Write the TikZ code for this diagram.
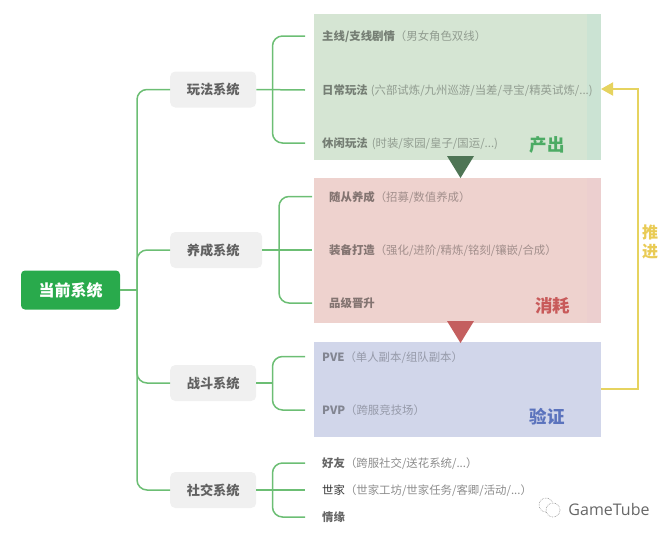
\documentclass[tikz,border=0pt]{standalone}
\usepackage{fontspec}
\setmainfont{Noto Sans CJK SC}
\newfontfamily\markfont{Open Sans}
\usepackage{xcolor}
\definecolor{linkgreen}{RGB}{108,190,116}
\definecolor{rootgreen}{RGB}{41,170,76}
\definecolor{sysgray}{RGB}{240,240,240}
\definecolor{outbox}{RGB}{213,229,211}
\definecolor{outstrip}{RGB}{203,227,211}
\definecolor{outmark}{RGB}{78,117,85}
\definecolor{outtext}{RGB}{76,171,100}
\definecolor{usebox}{RGB}{238,210,206}
\definecolor{usestrip}{RGB}{236,207,207}
\definecolor{usemark}{RGB}{196,95,95}
\definecolor{usetext}{RGB}{200,90,90}
\definecolor{testbox}{RGB}{209,214,234}
\definecolor{testtext}{RGB}{91,115,189}
\definecolor{pushyellow}{RGB}{230,211,95}
\usetikzlibrary{
  arrows.meta,
  positioning,
  calc
}

\begin{document}
\begin{tikzpicture}[
    x=1pt, y=-1pt,
    link/.style={line width=1.5pt, linkgreen},
    fork/.style={link, rounded corners=10pt},
    rootbox/.style={
      rectangle, rounded corners=4pt, fill=rootgreen, text=white,
      minimum width=99pt, minimum height=39pt, inner sep=0pt,
      font=\fontsize{16}{18}\selectfont\bfseries
    },
    sysbox/.style={
      rectangle, rounded corners=5pt, fill=sysgray, text=black!62,
      minimum height=36pt, inner sep=0pt, anchor=west,
      font=\fontsize{13.2}{15}\selectfont\bfseries
    },
    zone/.style={rectangle, minimum width=287pt, inner sep=0pt},
    item/.style={anchor=west, inner xsep=17pt, inner ysep=0pt,
      text height=10pt, text depth=1pt,
      font=\fontsize{11.4}{13}\selectfont},
    tag/.style={font=\fontsize{17.5}{20}\selectfont\bfseries},
    >=Stealth
  ]
  \useasboundingbox (0,0) rectangle (672,536);

  %% Coloured zones
  \node[zone, fill=outbox, minimum height=146pt] (output) at (457.5,87) {};
  \fill[outstrip] (587,14) rectangle (601,160);
  \node[zone, fill=usebox, minimum height=145pt] (consume) at (457.5,250.5) {};
  \fill[usestrip] (587,178) rectangle (601,323);
  \node[zone, fill=testbox, minimum height=95pt] (verify) at (457.5,389) {};

  %% Zone triangles
  \fill[outmark] (447,156) -- (474,156) -- (460.5,178) -- cycle;
  \fill[usemark] (447,321) -- (474,321) -- (460.5,343) -- cycle;

  %% Root and systems
  \node[rootbox] (root) at (70.5,290) {当前系统};
  \node[sysbox, minimum width=86pt] (play) at (170,89.5) {玩法系统};
  \node[sysbox, minimum width=92pt] (grow) at (170,250) {\hspace{-6pt}养成系统};
  \node[sysbox, minimum width=86pt] (fight) at (170,383) {战斗系统};
  \node[sysbox, minimum width=86pt] (social) at (170,490) {社交系统};

  %% Play items
  \node[item] (story) at (305,36)
    {\textcolor{black!45!outbox}{\textbf{主线/支线剧情}}\textcolor{black!32!outbox}{（男女角色双线）}};
  \node[item] (daily) at (305,90)
    {\textcolor{black!45!outbox}{\textbf{日常玩法}}\hspace{3pt}\textcolor{black!32!outbox}{(六部试炼/九州巡游/当差/寻宝/精英试炼/...)}};
  \node[item] (leisure) at (305,143)
    {\textcolor{black!45!outbox}{\textbf{休闲玩法}}\hspace{4pt}\textcolor{black!32!outbox}{(时装/家园/皇子/国运/...)}};

  %% Grow items
  \node[item] (follower) at (312,196.5)
    {\textcolor{black!45!usebox}{\textbf{随从养成}}\textcolor{black!32!usebox}{（招募/数值养成）}};
  \node[item] (gear) at (312,250)
    {\textcolor{black!45!usebox}{\textbf{装备打造}}\textcolor{black!32!usebox}{（强化/进阶/精炼/铭刻/镶嵌/合成）}};
  \node[item] (rank) at (312,303)
    {\textcolor{black!45!usebox}{\textbf{品级晋升}}};

  %% Fight items
  \node[item] (pve) at (305,356.5)
    {\textcolor{black!38!testbox}{\textbf{PVE}}\textcolor{black!28!testbox}{（单人副本/组队副本）}};
  \node[item] (pvp) at (305,410)
    {\textcolor{black!38!testbox}{\textbf{PVP}}\textcolor{black!28!testbox}{（跨服竞技场）}};

  %% Social items
  \node[item] (friend) at (305,463)
    {\textcolor{black!60}{\textbf{好友}}\textcolor{black!45}{（跨服社交/送花系统/...）}};
  \node[item] (clan) at (305,490)
    {\textcolor{black!80}{世家}\textcolor{black!45}{（世家工坊/世家任务/客卿/活动/...）}};
  \node[item] (couple) at (305,517)
    {\textcolor{black!60}{\textbf{情缘}}};

  %% Zone tags
  \node[tag, text=outtext] (outtag) at (547,145) {产出};
  \node[tag, text=usetext] (usetag) at (552.5,306) {消耗};
  \node[tag, text=testtext] (testtag) at (547,416.5) {验证};

  %% Fork points
  \coordinate (rootfork) at (137,290);
  \coordinate (playfork) at (272.5,89.5);
  \coordinate (growfork) at (279,250);
  \coordinate (fightfork) at (272.5,383);
  \coordinate (socialfork) at (272.5,490);

  %% Root edges
  \draw[link] (root.east) -- (rootfork);
  \draw[fork] (rootfork) |- (play.west);
  \draw[fork] (rootfork) |- (grow.west);
  \draw[fork] (rootfork) |- (fight.west);
  \draw[fork] (rootfork) |- (social.west);

  %% System edges
  \draw[link] (play.east) -- (daily.west);
  \draw[fork] (playfork) |- (story.west);
  \draw[fork] (playfork) |- (leisure.west);

  \draw[link] (grow.east) -- (gear.west);
  \draw[fork] (growfork) |- (follower.west);
  \draw[fork] (growfork) |- (rank.west);

  \draw[link] (fight.east) -- (fightfork);
  \draw[fork] (fightfork) |- (pve.west);
  \draw[fork] (fightfork) |- (pvp.west);

  \draw[link] (social.east) -- (clan.west);
  \draw[fork] (socialfork) |- (friend.west);
  \draw[fork] (socialfork) |- (couple.west);

  %% Feedback loop
  \coordinate (pushend) at (601,89);
  \draw[-{Triangle[length=12pt,width=13pt]}, line width=2pt, pushyellow]
    (verify.east) -- ++(37,0) |- (pushend);
  \node[font=\fontsize{16}{19}\selectfont\bfseries, text=pushyellow!90!orange,
        align=center] (pushlbl) at (650,242) {推\\进};

  %% Watermark
  \node[font=\markfont\fontsize{16}{18}\selectfont, text=black!60] (mark) at (609,509) {GameTube};
  \draw[black!45, line width=0.6pt, densely dotted] (546,505) circle (7pt);
  \draw[black!45, line width=0.6pt, densely dotted, fill=white] (553,510) circle (7pt);
\end{tikzpicture}
\end{document}
